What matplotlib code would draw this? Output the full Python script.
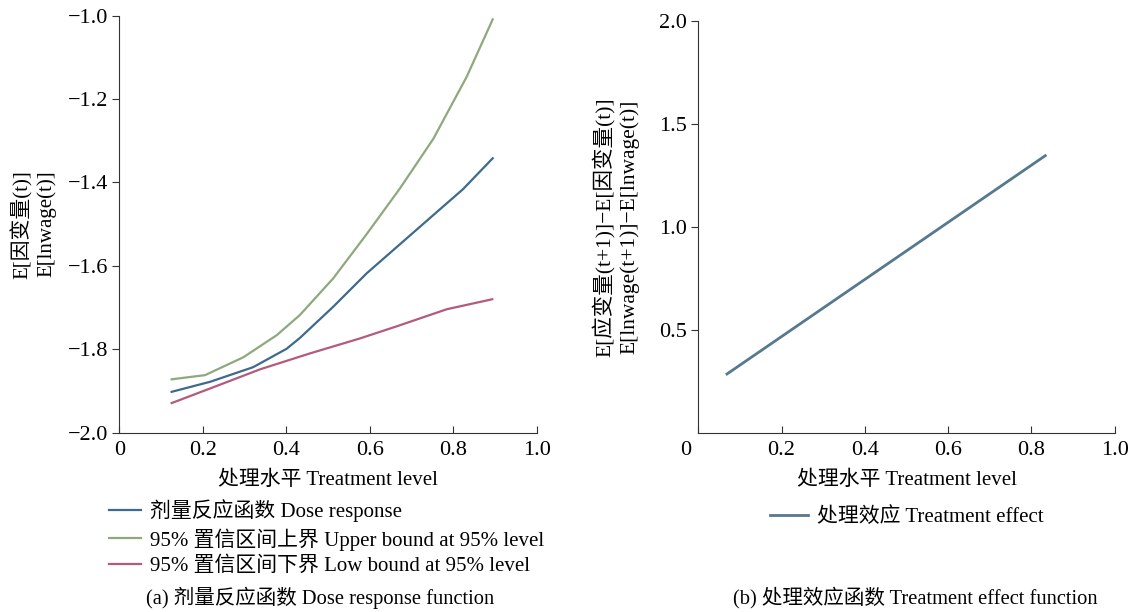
import numpy as np
import matplotlib
matplotlib.use('Agg')
from matplotlib import pyplot as plt

plt.rcParams['font.family'] = ['Liberation Serif', 'Noto Sans CJK SC', 'DejaVu Sans']
plt.rcParams['font.size'] = 14

# (a) dose response
dose_x = [0.125, 0.217, 0.320, 0.400, 0.432, 0.512, 0.592, 0.672, 0.752, 0.823, 0.894]
dose_y = [-1.902, -1.878, -1.843, -1.799, -1.773, -1.698, -1.618, -1.548, -1.478, -1.416, -1.342]

upper_x = [0.125, 0.205, 0.297, 0.377, 0.432, 0.512, 0.592, 0.672, 0.752, 0.832, 0.894]
upper_y = [-1.872, -1.862, -1.819, -1.766, -1.718, -1.630, -1.524, -1.414, -1.295, -1.146, -1.009]

low_x = [0.125, 0.217, 0.337, 0.456, 0.576, 0.664, 0.784, 0.893]
low_y = [-1.929, -1.894, -1.848, -1.810, -1.774, -1.745, -1.704, -1.680]

# (b) treatment effect
eff_x = [0.069, 0.833]
eff_y = [0.285, 1.345]

c_dose = '#3d6b8e'
c_up = '#8fa87e'
c_low = '#b35a7e'
c_eff = '#56798f'

fig = plt.figure(figsize=(11.4, 6.12), dpi=100)

ax1 = fig.add_axes([0.1048, 0.293, 0.3662, 0.6814])
ax1.plot(dose_x, dose_y, color=c_dose, lw=1.6, solid_joinstyle='round', label='剂量反应函数 Dose response')
ax1.plot(upper_x, upper_y, color=c_up, lw=1.6, solid_joinstyle='round', label='95% 置信区间上界 Upper bound at 95% level')
ax1.plot(low_x, low_y, color=c_low, lw=1.6, solid_joinstyle='round', label='95% 置信区间下界 Low bound at 95% level')
ax1.set_xlim(0, 1.0)
ax1.set_ylim(-2.0, -1.0)
ax1.set_xticks([0, 0.2, 0.4, 0.6, 0.8, 1.0])
ax1.set_xticklabels(['0', '0.2', '0.4', '0.6', '0.8', '1.0'])
ax1.set_yticks([-2.0, -1.8, -1.6, -1.4, -1.2, -1.0])
ax1.set_yticklabels(['\u22122.0', '\u22121.8', '\u22121.6', '\u22121.4', '\u22121.2', '\u22121.0'])
ax1.set_xlabel('处理水平 Treatment level', labelpad=8)
ax1.set_ylabel('E[因变量(t)]\nE[lnwage(t)]', labelpad=8, linespacing=1.3)

ax2 = fig.add_axes([0.6125, 0.293, 0.3654, 0.673])
ax2.plot(eff_x, eff_y, color=c_eff, lw=2.0, label='处理效应 Treatment effect')
ax2.set_xlim(0, 1.0)
ax2.set_ylim(0, 2.0)
ax2.set_xticks([0, 0.2, 0.4, 0.6, 0.8, 1.0])
ax2.set_xticklabels(['', '0.2', '0.4', '0.6', '0.8', '1.0'])
ax2.set_yticks([0.5, 1.0, 1.5, 2.0])
ax2.set_xlabel('处理水平 Treatment level', labelpad=8)
ax2.set_ylabel('E[应变量(t+1)]\u2212E[因变量(t)]\nE[lnwage(t+1)]\u2212E[lnwage(t)]', labelpad=14, linespacing=1.3)
# the "0" of panel b sits left of the corner
ax2.annotate('0', xy=(0, 0), xycoords='axes fraction', xytext=(-9, -6), textcoords='offset points',
             ha='center', va='top', fontsize=16)

for ax in (ax1, ax2):
    ax.spines['top'].set_visible(False)
    ax.spines['right'].set_visible(False)
    ax.spines['left'].set_color('#333333')
    ax.spines['bottom'].set_color('#333333')
    ax.tick_params(axis='x', direction='in', length=5, color='#333333', pad=6, labelsize=16)
    ax.tick_params(axis='y', direction='out', length=5, color='#333333', pad=3, labelsize=16)
    ax.xaxis.label.set_size(15)
ax1.yaxis.label.set_size(15)
ax2.yaxis.label.set_size(15.5)

leg1 = ax1.legend(loc='center left', bbox_to_anchor=(0.096, 0.121), bbox_transform=fig.transFigure,
                  frameon=False, handlelength=1.5, handletextpad=0.45, labelspacing=0.28,
                  borderpad=0, borderaxespad=0, fontsize=15)
leg2 = ax2.legend(loc='center left', bbox_to_anchor=(0.675, 0.155), bbox_transform=fig.transFigure,
                  frameon=False, handlelength=1.85, handletextpad=0.45,
                  borderpad=0, borderaxespad=0, fontsize=15)

fig.text(0.281, 0.023, '(a) 剂量反应函数 Dose response function', ha='center', va='center', fontsize=14.8)
fig.text(0.803, 0.023, '(b) 处理效应函数 Treatment effect function', ha='center', va='center', fontsize=14.8)

fig.savefig('out.png', dpi=100)
